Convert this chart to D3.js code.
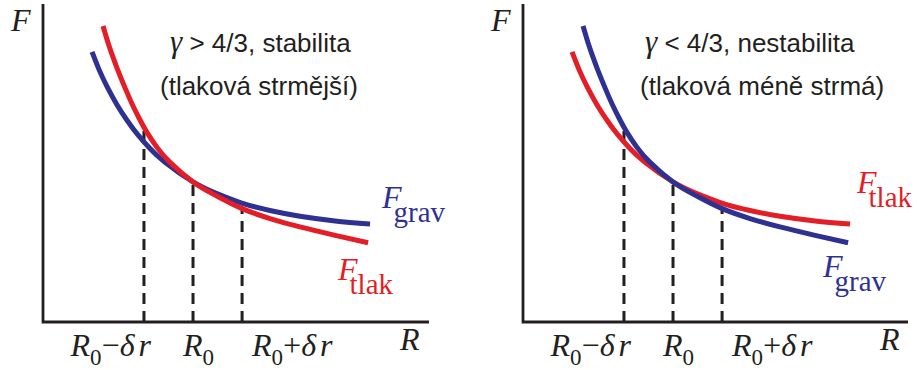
<!DOCTYPE html>
<html><head><meta charset="utf-8">
<script src="https://cdn.jsdelivr.net/npm/d3@7"></script>
<style>body{margin:0;background:#fff}svg{display:block}</style>
</head><body>
<script>
// ---- data (units: R0 = 1, F(R0) = 1) ----
const steepR  = [0.400,0.433,0.460,0.500,0.547,0.593,0.640,0.693,0.760,0.847,1.000,1.147,1.320,1.513,1.713,1.947,2.167];
const steepF  = [2.114,1.996,1.911,1.795,1.672,1.559,1.457,1.354,1.247,1.140,1.000,0.906,0.813,0.739,0.679,0.619,0.566];
const gentleR = [0.327,0.373,0.427,0.493,0.560,0.633,0.713,0.813,1.000,1.147,1.320,1.513,1.713,1.947,2.180];
const gentleF = [1.929,1.804,1.681,1.552,1.441,1.336,1.239,1.141,1.000,0.922,0.851,0.796,0.755,0.722,0.700];
const deltaR = 0.327;
const markR = [1 - deltaR, 1, 1 + deltaR];
const markTopF = [1.40, 1.0, 0.813];
const titleSign = [">", "<"];
const titleWord = ["stabilita", "nestabilita"];
const titleLine2 = ["(tlaková strmější)", "(tlaková méně strmá)"];
// which force is the steeper curve in each panel
const steepSeries = ["tlak", "grav"];
const gentleSeries = ["grav", "tlak"];

// ---- layout ----
const W = 917, H = 370;
const red = "#e31e26", blue = "#2e3192", ink = "#231f20";
const seriesColor = {tlak: red, grav: blue};
const panelLayout = [
  {ox: 43,  xEnd: 429, t1x: 127, upper: [339, 208], lower: [295, 280]},
  {ox: 523, xEnd: 908, t1x: 122, upper: [334, 193], lower: [300, 277]}
];
const yBase = 322, yTop = 4;
const serif = "'Liberation Serif','DejaVu Serif',serif";
const sans = "'Liberation Sans',Arial,sans-serif";

const svg = d3.select("body").append("svg").attr("width", W).attr("height", H);

panelLayout.forEach((L, i) => {
  const x = d3.scaleLinear().domain([0, 2.573]).range([L.ox, L.ox + 386]);
  const y = d3.scaleLinear().domain([0, 2.271]).range([yBase, yTop]);
  const g = svg.append("g");

  // dashed drop lines
  markR.forEach((r, k) => {
    g.append("line").attr("x1", x(r)).attr("x2", x(r))
      .attr("y1", yBase).attr("y2", y(markTopF[k]))
      .attr("stroke", ink).attr("stroke-width", 3).attr("stroke-dasharray", "11,7");
  });

  const line = d3.line().x(d => x(d[0])).y(d => y(d[1])).curve(d3.curveNatural);
  const steep = steepR.map((r, k) => [r, steepF[k]]);
  const gentle = gentleR.map((r, k) => [r, gentleF[k]]);
  const curves = [
    {pts: gentle, s: gentleSeries[i]},
    {pts: steep, s: steepSeries[i]}
  ];
  curves.sort((a, b) => (a.s === "grav") === (i === 0) ? -1 : 1);
  curves.forEach(c => {
    g.append("path").attr("d", line(c.pts)).attr("fill", "none")
      .attr("stroke", seriesColor[c.s]).attr("stroke-width", 5);
  });

  // axes
  g.append("path")
    .attr("d", `M${L.ox},${yTop}V${yBase}H${L.xEnd}`)
    .attr("fill", "none").attr("stroke", ink).attr("stroke-width", 2.8);

  // axis labels
  g.append("text").attr("x", L.ox - 32).attr("y", 31).attr("font-family", serif)
    .attr("font-style", "italic").attr("font-size", 32).attr("fill", ink).text("F");
  g.append("text").attr("x", L.ox + 357).attr("y", 350).attr("font-family", serif)
    .attr("font-style", "italic").attr("font-size", 32).attr("fill", ink).text("R");

  // tick labels
  const tickDefs = [
    {anchor: "end", xpos: x(markR[0]) + 7, op: "−", delta: true},
    {anchor: "start", xpos: x(markR[1]) - 10, op: null, delta: false},
    {anchor: "start", xpos: x(markR[2]) + 10, op: "+", delta: true}
  ];
  tickDefs.forEach(t => {
    const tx = g.append("text").attr("x", t.xpos).attr("y", 356)
      .attr("text-anchor", t.anchor).attr("font-family", serif)
      .attr("font-size", 32).attr("fill", ink);
    tx.append("tspan").attr("font-style", "italic").text("R");
    tx.append("tspan").attr("font-size", 23).attr("dy", 9).text("0");
    if (t.delta) {
      tx.append("tspan").attr("dy", -9).text(t.op);
      tx.append("tspan").attr("font-style", "italic").text("δ");
      tx.append("tspan").attr("font-style", "italic").attr("dx", 4).text("r");
    }
  });

  // titles
  const t1 = g.append("text").attr("x", L.ox + L.t1x).attr("y", 52)
    .attr("font-family", sans).attr("font-size", 26).attr("fill", ink);
  t1.append("tspan").attr("font-family", serif).attr("font-style", "italic")
    .attr("font-size", 31).text("γ");
  t1.append("tspan").text(` ${titleSign[i]} 4/3, ${titleWord[i]}`);
  g.append("text").attr("x", L.ox + 117).attr("y", 95)
    .attr("font-family", sans).attr("font-size", 26).attr("fill", ink).text(titleLine2[i]);

  // series labels: upper = gentle series end, lower = steep series end
  const labs = [
    {pos: L.upper, s: gentleSeries[i]},
    {pos: L.lower, s: steepSeries[i]}
  ];
  labs.forEach(lb => {
    const tx = g.append("text").attr("x", L.ox + lb.pos[0]).attr("y", lb.pos[1])
      .attr("font-family", serif).attr("font-size", 32).attr("fill", seriesColor[lb.s]);
    tx.append("tspan").attr("font-style", "italic").text("F");
    tx.append("tspan").attr("font-size", 29).attr("dx", -8).attr("dy", 14).text(lb.s);
  });
});
</script>
</body></html>
